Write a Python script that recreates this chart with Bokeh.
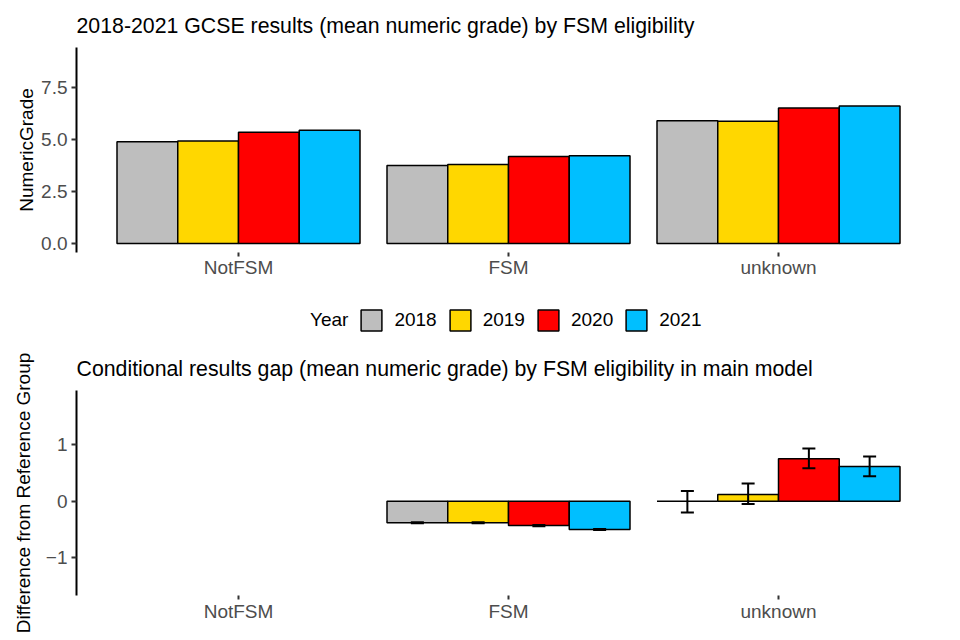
from bokeh.plotting import figure
from bokeh.models import (ColumnDataSource, FactorRange, Legend, LegendItem, Whisker,
                          TeeHead, FixedTicker, Range1d, NumeralTickFormatter, Title)
from bokeh.layouts import column
from bokeh.transform import dodge
from bokeh.embed import file_html
from bokeh.resources import INLINE

# ---------------- data ----------------
groups = ["NotFSM", "FSM", "unknown"]
years = ["2018", "2019", "2020", "2021"]
colors = ["#BEBEBE", "#FFD700", "#FF0000", "#00BFFF"]
legend_title = "Year"

grade_2018 = [4.88, 3.74, 5.89]
grade_2019 = [4.92, 3.79, 5.87]
grade_2020 = [5.34, 4.18, 6.50]
grade_2021 = [5.43, 4.21, 6.60]

gap_groups = ["FSM", "unknown"]
gap_2018 = [-0.38, 0.00]
gap_2018_lo = [-0.39, -0.20]
gap_2018_hi = [-0.37, 0.18]
gap_2019 = [-0.38, 0.12]
gap_2019_lo = [-0.39, -0.05]
gap_2019_hi = [-0.37, 0.31]
gap_2020 = [-0.43, 0.75]
gap_2020_lo = [-0.44, 0.58]
gap_2020_hi = [-0.42, 0.93]
gap_2021 = [-0.50, 0.61]
gap_2021_lo = [-0.51, 0.44]
gap_2021_hi = [-0.49, 0.79]

title_top = "2018-2021 GCSE results (mean numeric grade) by FSM eligibility"
title_bottom = "Conditional results gap (mean numeric grade) by FSM eligibility in main model"

FONT = "Liberation Sans"
offsets = [-0.3375, -0.1125, 0.1125, 0.3375]
bar_w = 0.225
BL, BR = 76, 4


def make_title(text):
    return Title(text=text, text_font=FONT, text_font_size="21.3px", text_font_style="normal",
                 text_color="black", align="left", offset=0, standoff=19)


def style(p, ylabel, label_standoff, x_standoff):
    p.xgrid.visible = False
    p.ygrid.visible = False
    p.outline_line_color = None
    p.background_fill_color = "white"
    p.border_fill_color = "white"
    xa = p.xaxis[0]
    xa.axis_line_color = None
    xa.major_tick_line_color = "#333333"
    xa.major_tick_line_width = 2
    xa.major_tick_out = 4
    xa.major_tick_in = 0
    xa.minor_tick_line_color = None
    xa.major_label_text_font = FONT
    xa.major_label_text_font_size = "19px"
    xa.major_label_text_color = "#4D4D4D"
    xa.major_label_standoff = x_standoff
    ya = p.yaxis[0]
    ya.axis_line_color = "black"
    ya.axis_line_width = 2
    ya.major_tick_line_color = "#333333"
    ya.major_tick_line_width = 2
    ya.major_tick_out = 5
    ya.major_tick_in = 0
    ya.minor_tick_line_color = None
    ya.major_label_text_font = FONT
    ya.major_label_text_font_size = "19px"
    ya.major_label_text_color = "#4D4D4D"
    ya.major_label_standoff = 4
    ya.axis_label = ylabel
    ya.axis_label_text_font = FONT
    ya.axis_label_text_font_size = "19px"
    ya.axis_label_text_font_style = "normal"
    ya.axis_label_text_color = "black"
    ya.axis_label_standoff = label_standoff


# ---------------- top chart ----------------
p1 = figure(width=944, height=285, output_backend="svg", toolbar_location=None,
            x_range=FactorRange(factors=groups, range_padding=0.1, range_padding_units="absolute"),
            y_range=Range1d(-0.435, 9.41), title=None,
            min_border_left=BL, min_border_right=BR, min_border_top=47, min_border_bottom=33)
p1.add_layout(make_title(title_top), "above")

top_series = [grade_2018, grade_2019, grade_2020, grade_2021]
top_sources = []
for yr, vals, col, off in zip(years, top_series, colors, offsets):
    src = ColumnDataSource(dict(x=groups, top=vals))
    top_sources.append(src)
    p1.vbar(x=dodge("x", off, range=p1.x_range), top="top", bottom=0, width=bar_w,
            source=src, fill_color=col, line_color="black", line_width=1.5)

style(p1, "NumericGrade", 1, 0)
p1.yaxis[0].ticker = FixedTicker(ticks=[0, 2.5, 5, 7.5])
p1.yaxis[0].formatter = NumeralTickFormatter(format="0.0")

# ---------------- legend strip (legend swatches only; its renderers are hidden) ----------------
pL = figure(width=944, height=60, output_backend="svg", toolbar_location=None,
            x_axis_location=None, y_axis_location=None,
            x_range=FactorRange(factors=groups), y_range=Range1d(0, 1),
            min_border_left=BL, min_border_right=BR, min_border_top=0, min_border_bottom=0)
pL.grid.visible = False
pL.outline_line_color = None
pL.background_fill_color = "white"
pL.border_fill_color = "white"

head = pL.vbar(x="x", top="top", width=bar_w, source=top_sources[0],
               fill_alpha=0, line_alpha=0, visible=False)
items = [LegendItem(label=legend_title, renderers=[head])]
for yr, col, src in zip(years, colors, top_sources):
    r = pL.vbar(x="x", top="top", width=bar_w, source=src, fill_color=col,
                line_color="black", line_width=1.5, visible=False)
    items.append(LegendItem(label=yr, renderers=[r]))

legend = Legend(items=items, orientation="horizontal", location=(198, 12),
                glyph_width=26, glyph_height=26, label_standoff=10,
                spacing=10, padding=0, margin=0,
                border_line_color=None, background_fill_alpha=0,
                inactive_fill_alpha=0,
                label_text_font=FONT, label_text_font_size="19px", label_text_color="black")
pL.add_layout(legend, "center")

# ---------------- bottom chart ----------------
p2 = figure(width=944, height=291, output_backend="svg", toolbar_location=None,
            x_range=FactorRange(factors=groups, range_padding=0.1, range_padding_units="absolute"),
            y_range=Range1d(-1.664, 1.953), title=None,
            min_border_left=BL, min_border_right=BR, min_border_top=45, min_border_bottom=41)
p2.add_layout(make_title(title_bottom), "above")

gap_series = [(gap_2018, gap_2018_lo, gap_2018_hi), (gap_2019, gap_2019_lo, gap_2019_hi),
              (gap_2020, gap_2020_lo, gap_2020_hi), (gap_2021, gap_2021_lo, gap_2021_hi)]
for (vals, lo, hi), col, off in zip(gap_series, colors, offsets):
    src = ColumnDataSource(dict(x=gap_groups, top=vals, lo=lo, hi=hi))
    p2.vbar(x=dodge("x", off, range=p2.x_range), top="top", bottom=0, width=bar_w,
            source=src, fill_color=col, line_color="black", line_width=1.5)
    w = Whisker(source=src, base=dodge("x", off, range=p2.x_range), upper="hi", lower="lo",
                line_color="black", line_width=2, level="annotation",
                upper_head=TeeHead(size=13, line_color="black", line_width=2),
                lower_head=TeeHead(size=13, line_color="black", line_width=2))
    p2.add_layout(w)

style(p2, "Difference from Reference Group", 9, 1)
p2.yaxis[0].ticker = FixedTicker(ticks=[-1, 0, 1])

layout = column(p1, pL, p2, spacing=0)
open("out.html", "w").write(file_html(layout, INLINE))
